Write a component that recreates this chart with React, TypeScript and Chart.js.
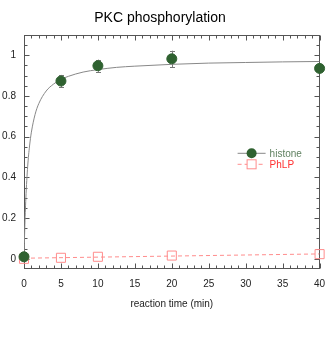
import React, { useEffect, useRef } from "react";
import { Chart, registerables } from "chart.js";
Chart.register(...registerables);

const chartTitle = "PKC phosphorylation";
const xAxisTitle = "reaction time (min)";
const times = [0, 5, 10, 20, 40];
const histone = [0.01, 0.873, 0.948, 0.982, 0.935];
const histoneErr = [0, 0.03, 0.03, 0.04, 0];
const phlp = [0, 0.005, 0.01, 0.016, 0.023];
const fitHistoneT = [0, 0.1, 0.25, 0.5, 0.75, 1, 1.5, 2, 3, 4, 5, 6, 8, 10, 12.5, 15, 20, 25, 30, 35, 40];
const fitHistoneY = [0, 0.145, 0.296, 0.455, 0.554, 0.622, 0.709, 0.762, 0.824, 0.858, 0.881, 0.896, 0.917, 0.929, 0.94, 0.946, 0.955, 0.961, 0.964, 0.967, 0.969];
const fitPhlpT = [0, 40];
const fitPhlpY = [0.003, 0.024];
const xTickValues = [0, 5, 10, 15, 20, 25, 30, 35, 40];
const yTickValues = [0, 0.2, 0.4, 0.6, 0.8, 1];
const legendLabels = ["histone", "PhLP"];

const GREEN = "#2f6130";
const PINK = "#ff8c8c";
const FONT = "'Liberation Sans', Arial, Helvetica, sans-serif";

const frameTicks = {
  id: "frameTicks",
  beforeDatasetsDraw(chart: any) {
    const { ctx, chartArea: ca } = chart;
    const xs = chart.scales.x;
    const ys = chart.scales.y;
    ctx.save();
    ctx.strokeStyle = "#555";
    ctx.lineWidth = 1;
    const L = Math.round(ca.left) + 0.5, R = Math.round(ca.right) - 0.5;
    const T = Math.round(ca.top) + 0.5, B = Math.round(ca.bottom) - 0.5;
    ctx.strokeRect(L, T, R - L, B - T);
    ctx.beginPath();
    for (let k = 0; k <= 40; k++) {
      const px = Math.round(xs.getPixelForValue(k)) + 0.5;
      const len = k % 5 === 0 ? 5 : 3;
      ctx.moveTo(px, B); ctx.lineTo(px, B - len);
      ctx.moveTo(px, T); ctx.lineTo(px, T + len);
    }
    for (let k = 0; k <= 22; k++) {
      const py = Math.round(ys.getPixelForValue(k * 0.05)) + 0.5;
      const len = k % 4 === 0 ? 5 : 3;
      ctx.moveTo(L, py); ctx.lineTo(L + len, py);
      ctx.moveTo(R, py); ctx.lineTo(R - len, py);
    }
    ctx.stroke();
    // error bars
    ctx.strokeStyle = "#777";
    ctx.beginPath();
    times.forEach((t, i) => {
      const e = histoneErr[i];
      if (!e) return;
      const px = Math.round(xs.getPixelForValue(t)) + 0.5;
      const y1 = ys.getPixelForValue(histone[i] + e);
      const y2 = ys.getPixelForValue(histone[i] - e);
      ctx.moveTo(px, y1); ctx.lineTo(px, y2);
      ctx.moveTo(px - 2.5, Math.round(y1) + 0.5); ctx.lineTo(px + 2.5, Math.round(y1) + 0.5);
      ctx.moveTo(px - 2.5, Math.round(y2) + 0.5); ctx.lineTo(px + 2.5, Math.round(y2) + 0.5);
    });
    ctx.stroke();
    ctx.restore();
  },
  afterDraw(chart: any) {
    const { ctx, chartArea: ca } = chart;
    ctx.save();
    const x0 = ca.right - 82;
    const x1 = ca.right - 54;
    const mx = (x0 + x1) / 2;
    const tx = ca.right - 50;
    const y1 = ca.top + 118.5;
    const y2 = ca.top + 129.5;
    ctx.lineWidth = 1;
    ctx.strokeStyle = "#888";
    ctx.beginPath(); ctx.moveTo(x0, y1); ctx.lineTo(x1, y1); ctx.stroke();
    ctx.fillStyle = GREEN;
    ctx.beginPath(); ctx.arc(mx, y1, 5, 0, Math.PI * 2); ctx.fill();
    ctx.strokeStyle = PINK;
    ctx.setLineDash([4, 3]);
    ctx.beginPath(); ctx.moveTo(x0, y2); ctx.lineTo(x1, y2); ctx.stroke();
    ctx.setLineDash([]);
    ctx.fillStyle = "#fff";
    ctx.fillRect(mx - 4.5, y2 - 4.5, 9, 9);
    ctx.strokeRect(mx - 4.5, y2 - 4.5, 9, 9);
    ctx.font = `10px ${FONT}`;
    ctx.textBaseline = "middle";
    ctx.textAlign = "left";
    ctx.fillStyle = "#5f8060";
    ctx.fillText(legendLabels[0], tx, y1 + 1);
    ctx.fillStyle = "#ff3030";
    ctx.fillText(legendLabels[1], tx, y2 + 1);
    ctx.restore();
  },
};

export default function App() {
  const ref = useRef<HTMLCanvasElement>(null);
  useEffect(() => {
    document.body.style.margin = "0";
    const chart = new Chart(ref.current as HTMLCanvasElement, {
      type: "scatter",
      data: {
        datasets: [
          {
            label: legendLabels[0],
            data: times.map((t, i) => ({ x: t, y: histone[i] })),
            backgroundColor: GREEN,
            borderColor: GREEN,
            pointRadius: 5,
            pointHoverRadius: 5,
            showLine: false,
            clip: false,
          } as any,
          {
            label: legendLabels[1],
            data: times.map((t, i) => ({ x: t, y: phlp[i] })),
            backgroundColor: "rgba(255,255,255,0)",
            borderColor: PINK,
            borderWidth: 1,
            pointStyle: "rect",
            pointRadius: 6.4,
            showLine: false,
            clip: false,
          } as any,
          {
            label: "fit histone",
            data: fitHistoneT.map((t, i) => ({ x: t, y: fitHistoneY[i] })),
            borderColor: "#888",
            borderWidth: 1,
            pointRadius: 0,
            showLine: true,
            cubicInterpolationMode: "monotone",
          } as any,
          {
            label: "fit PhLP",
            data: fitPhlpT.map((t, i) => ({ x: t, y: fitPhlpY[i] })),
            borderColor: PINK,
            borderWidth: 1,
            borderDash: [4, 3],
            pointRadius: 0,
            showLine: true,
          } as any,
        ],
      },
      options: {
        animation: false,
        responsive: false,
        devicePixelRatio: 1,
        layout: { padding: { left: 0, right: 7, top: 0, bottom: 0 } },
        plugins: {
          legend: { display: false },
          tooltip: { enabled: false },
          title: {
            display: true,
            text: chartTitle,
            color: "#000",
            font: { size: 14, family: FONT, weight: "normal" },
            padding: { top: 10, bottom: 8 },
          },
        },
        scales: {
          x: {
            type: "linear",
            min: 0,
            max: 40,
            grid: { display: false, drawTicks: false },
            border: { display: false },
            afterBuildTicks: (s: any) => { s.ticks = xTickValues.map((v) => ({ value: v })); },
            afterFit: (s: any) => { s.height = 74; s.paddingLeft = 0; s.paddingRight = 0; },
            ticks: { color: "#222", padding: 9, font: { size: 10, family: FONT }, maxRotation: 0, callback: (v: any) => String(v) },
            title: { display: true, text: xAxisTitle, color: "#222", font: { size: 10, family: FONT }, padding: { top: 0, bottom: 33 } },
          },
          y: {
            type: "linear",
            min: -0.05,
            max: 1.1,
            grid: { display: false, drawTicks: false },
            border: { display: false },
            afterBuildTicks: (s: any) => { s.ticks = yTickValues.map((v) => ({ value: v })); },
            afterFit: (s: any) => { s.width = 24; s.paddingTop = 0; s.paddingBottom = 0; },
            ticks: { color: "#222", padding: 8, font: { size: 10, family: FONT }, callback: (v: any) => String(Math.round(v * 10) / 10) },
          },
        },
      } as any,
      plugins: [frameTicks],
    });
    return () => chart.destroy();
  }, []);
  return (
    <div style={{ position: "absolute", left: 0, top: 0, width: 327, height: 343 }}>
      <canvas ref={ref} width={327} height={343} />
    </div>
  );
}
